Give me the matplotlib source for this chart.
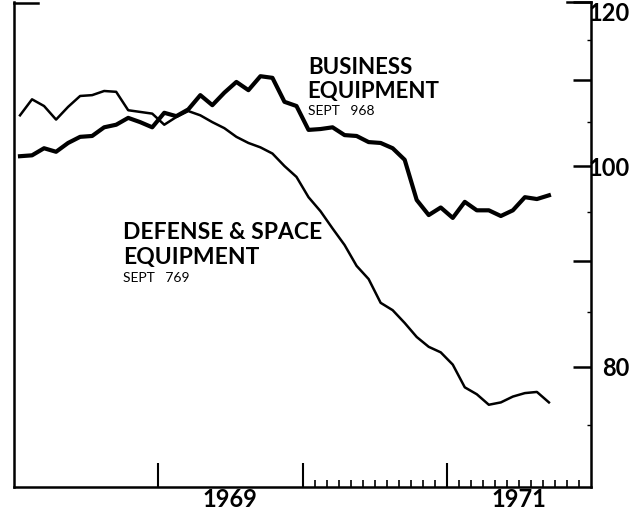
import numpy as np
import matplotlib.pyplot as plt
from matplotlib.ticker import NullFormatter

plt.rcParams['font.family'] = ['Lato', 'DejaVu Sans']

# monthly, Jan 1968 .. Sept 1971 (index 1967 = 100, ratio scale)
months = 1968 + (np.arange(45) + 0.5) / 12

business = [101.1, 101.2, 102.0, 101.6, 102.6, 103.3, 103.4, 104.4, 104.7, 105.5,
            105.0, 104.4, 106.1, 105.7, 106.5, 108.2, 107.0, 108.5, 109.8, 108.8,
            110.5, 110.3, 107.4, 106.9, 104.1, 104.2, 104.4, 103.5, 103.4, 102.7,
            102.6, 102.0, 100.7, 96.3, 94.7, 95.5, 94.4, 96.1, 95.2, 95.2,
            94.6, 95.2, 96.6, 96.4, 96.8]

defense = [105.8, 107.7, 106.9, 105.3, 106.8, 108.1, 108.2, 108.7, 108.6, 106.4,
           106.2, 106.0, 104.7, 105.6, 106.3, 105.8, 105.0, 104.3, 103.3, 102.6,
           102.1, 101.4, 100.0, 98.8, 96.6, 95.1, 93.3, 91.6, 89.5, 88.2,
           85.9, 85.2, 84.0, 82.7, 81.8, 81.3, 80.2, 78.2, 77.6, 76.7,
           76.9, 77.4, 77.7, 77.8, 76.9]

year_ticks = [1969, 1970, 1971]
month_ticks = [1970 + m / 12 for m in range(1, 12)] + [1971 + m / 12 for m in range(1, 12)]
year_labels = ['1969', '1971']
year_label_pos = [1969.5, 1971.5]

y_major = [80, 90, 100, 110, 120]
y_labels = ['80', '', '100', '', '120']
y_minor = [75, 85, 95, 105, 115]

fig = plt.figure(figsize=(6.32, 5.11), dpi=100)
ax = fig.add_axes([14 / 632, 24 / 511, 577 / 632, 485 / 511])

ax.plot(months, defense, color='black', lw=1.8)
ax.plot(months, business, color='black', lw=3.0)

ax.set_yscale('log')
ax.set_ylim(70, 120)
ax.set_xlim(1968, 1972)

ax.spines['top'].set_visible(False)
for s in ['left', 'right', 'bottom']:
    ax.spines[s].set_linewidth(1.8)

# short corner stubs at the top
ax.plot([0, 0.042], [0.997, 0.997], transform=ax.transAxes, color='black', lw=1.8, clip_on=False)
ax.plot([0.958, 1], [1, 1], transform=ax.transAxes, color='black', lw=1.8, clip_on=False)

# ratio scale on the right
ax.yaxis.tick_right()
ax.set_yticks(y_major, y_labels)
ax.set_yticks(y_minor, minor=True)
ax.yaxis.set_minor_formatter(NullFormatter())
ax.tick_params(axis='y', which='major', direction='in', length=13, width=1.8,
               pad=28, labelsize=17)
ax.tick_params(axis='y', which='minor', direction='in', length=3, width=1)
for lab in ax.get_yticklabels():
    lab.set_ha('right')
    lab.set_fontweight('bold')
    if lab.get_text() == '120':
        lab.set_va('top')

# years
ax.set_xticks(year_ticks, ['', '', ''])
ax.set_xticks(month_ticks, minor=True)
ax.tick_params(axis='x', which='major', direction='in', length=17, width=1.5)
ax.tick_params(axis='x', which='minor', direction='in', length=5, width=1.2)

sec = ax.secondary_xaxis('bottom')
sec.set_xticks(year_label_pos, year_labels)
sec.tick_params(length=0, labelsize=17, pad=1)
sec.spines['bottom'].set_visible(False)
for lab in sec.get_xticklabels():
    lab.set_fontweight('bold')

fig.text(308 / 632, 1 - 57 / 511, 'BUSINESS', fontsize=16, fontweight='bold', va='top')
fig.text(307 / 632, 1 - 81 / 511, 'EQUIPMENT', fontsize=16, fontweight='bold', va='top')
fig.text(308 / 632, 1 - 105 / 511, 'SEPT   968', fontsize=10, va='top')

fig.text(123 / 632, 1 - 222 / 511, 'DEFENSE & SPACE', fontsize=16.5, fontweight='bold', va='top')
fig.text(123 / 632, 1 - 247 / 511, 'EQUIPMENT', fontsize=16.5, fontweight='bold', va='top')
fig.text(123 / 632, 1 - 272 / 511, 'SEPT   769', fontsize=10, va='top')

fig.savefig('out.png', dpi=100)
